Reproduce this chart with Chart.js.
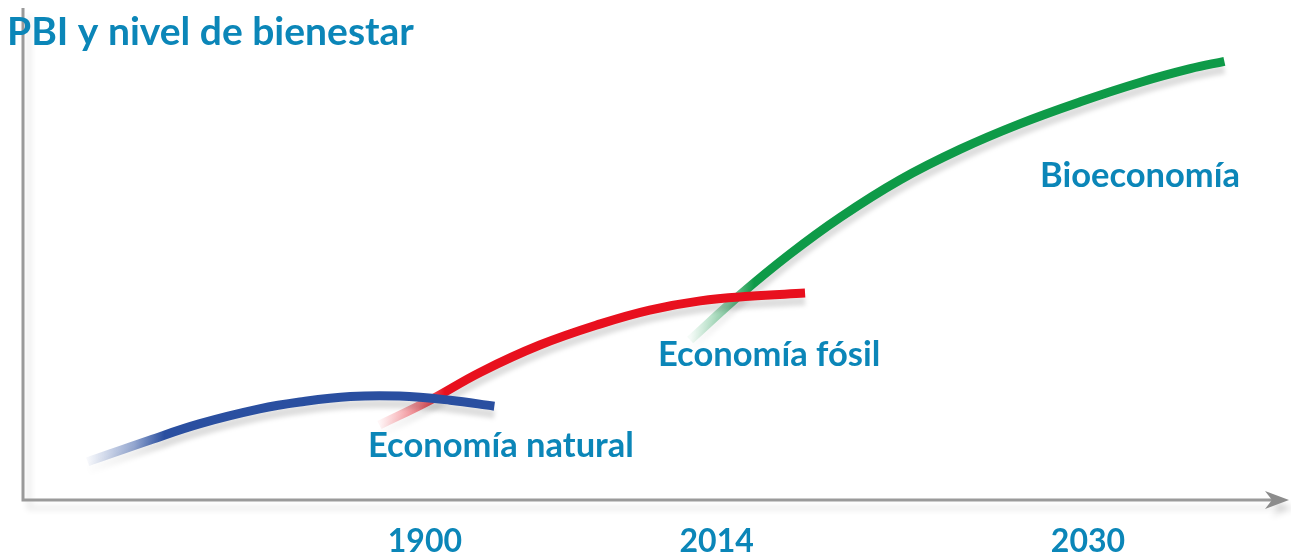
<!DOCTYPE html>
<html>
<head>
<meta charset="utf-8">
<script src="https://cdn.jsdelivr.net/npm/chart.js@4.4.1/dist/chart.umd.min.js"></script>
<style>
  html, body { margin: 0; padding: 0; background: #fff; }
  #wrap { width: 1291px; height: 555px; }
</style>
</head>
<body>
<div id="wrap"><canvas id="chart"></canvas></div>
<script>
// Datos (eje x: tiempo relativo 0-100, eje y: nivel de bienestar 0-107)
const economiaNatural = [
    { x: 5.2, y: 8.3 }, { x: 10.1, y: 13.0 }, { x: 14.1, y: 16.6 }, { x: 18.8, y: 19.8 },
    { x: 22.0, y: 21.3 }, { x: 26.0, y: 22.5 }, { x: 29.9, y: 22.6 }, { x: 33.9, y: 21.7 },
    { x: 37.4, y: 20.4 }
];
const economiaFosil = [
    { x: 28.3, y: 16.3 }, { x: 32.3, y: 21.7 }, { x: 36.3, y: 27.8 }, { x: 41.0, y: 33.7 },
    { x: 45.8, y: 38.3 }, { x: 49.7, y: 41.3 }, { x: 53.7, y: 43.3 }, { x: 57.6, y: 44.3 },
    { x: 62.0, y: 45.0 }
];
const bioeconomia = [
    { x: 52.9, y: 34.8 }, { x: 56.8, y: 44.5 }, { x: 60.8, y: 53.5 }, { x: 64.8, y: 61.5 },
    { x: 69.5, y: 69.6 }, { x: 74.3, y: 76.3 }, { x: 79.0, y: 81.8 }, { x: 83.8, y: 86.6 },
    { x: 88.5, y: 90.8 }, { x: 92.5, y: 93.8 }, { x: 95.2, y: 95.4 }
];
const tickValues = [31.9, 55.0, 84.4];
const tickLabels = ['1900', '2014', '2030'];

const TEXT_COLOR = '#0b86b8';
const FONT = 'Lato, "Open Sans", sans-serif';

// Degradado para el inicio difuso de cada trazo
function strokeColor(rgb, data) {
    return (ctx) => {
        const chart = ctx.chart;
        if (!chart.chartArea) return `rgb(${rgb})`;
        const xs = chart.scales.x;
        const x0 = xs.getPixelForValue(data[0].x);
        const x1 = xs.getPixelForValue(data[1].x) + 15;
        const g = chart.ctx.createLinearGradient(x0, 0, x1, 0);
        g.addColorStop(0, `rgba(${rgb},0.04)`);
        g.addColorStop(0.6, `rgba(${rgb},0.5)`);
        g.addColorStop(1, `rgba(${rgb},1)`);
        return g;
    };
}

function lineSet(label, data, rgb) {
    return {
        label: label,
        data: data,
        borderColor: strokeColor(rgb, data),
        borderWidth: 9,
        borderCapStyle: 'butt',
        pointRadius: 0,
        tension: 0.4,
        fill: false
    };
}

// Ejes con flecha, sombra y textos
const decoPlugin = {
    id: 'deco',
    beforeDatasetsDraw(chart) {
        const { ctx, chartArea: a } = chart;
        ctx.save();
        ctx.shadowColor = 'rgba(0,0,0,0.12)';
        ctx.shadowBlur = 6;
        ctx.shadowOffsetX = 6;
        ctx.shadowOffsetY = 8;
        ctx.strokeStyle = '#9a9a9a';
        ctx.lineWidth = 3;
        ctx.beginPath();
        ctx.moveTo(a.left + 1, a.top);
        ctx.lineTo(a.left + 1, a.bottom);
        ctx.lineTo(a.right - 6, a.bottom);
        ctx.stroke();
        ctx.fillStyle = '#8c8c8c';
        ctx.beginPath();
        ctx.moveTo(a.right + 4, a.bottom);
        ctx.lineTo(a.right - 20, a.bottom - 9);
        ctx.lineTo(a.right - 13, a.bottom);
        ctx.lineTo(a.right - 20, a.bottom + 9);
        ctx.closePath();
        ctx.fill();
        ctx.restore();

        ctx.save();
        ctx.shadowColor = 'rgba(0,0,0,0.13)';
        ctx.shadowBlur = 4;
        ctx.shadowOffsetY = 8;
    },
    afterDatasetsDraw(chart) {
        const { ctx } = chart;
        ctx.restore();
        ctx.save();
        ctx.fillStyle = TEXT_COLOR;
        ctx.textBaseline = 'middle';
        ctx.textAlign = 'left';
        ctx.font = `bold 39px ${FONT}`;
        ctx.fillText('PBI y nivel de bienestar', 7, 32);
        ctx.font = `bold 34.5px ${FONT}`;
        ctx.fillText('Economía natural', 368, 446);
        ctx.fillText('Economía fósil', 658, 355);
        ctx.fillText('Bioeconomía', 1040, 176);
        ctx.restore();
    }
};

new Chart(document.getElementById('chart'), {
    type: 'line',
    data: {
        datasets: [
            lineSet('Economía natural', economiaNatural, '42,79,160'),
            lineSet('Economía fósil', economiaFosil, '232,16,30'),
            lineSet('Bioeconomía', bioeconomia, '14,154,72')
        ]
    },
    options: {
        responsive: true,
        maintainAspectRatio: false,
        animation: false,
        layout: { padding: { left: 22, top: 8, right: 6, bottom: 0 } },
        plugins: { legend: { display: false }, tooltip: { enabled: false } },
        scales: {
            x: {
                type: 'linear',
                min: 0,
                max: 100,
                grid: { display: false, drawTicks: false },
                border: { display: false },
                afterBuildTicks: s => { s.ticks = tickValues.map(v => ({ value: v })); },
                afterFit: s => { s.height = 55; },
                ticks: {
                    autoSkip: false,
                    maxRotation: 0,
                    padding: 22,
                    color: TEXT_COLOR,
                    font: { family: FONT, size: 32, weight: 'bold' },
                    callback: (v, i) => tickLabels[i]
                }
            },
            y: { display: false, min: 0, max: 107 }
        }
    },
    plugins: [decoPlugin]
});
</script>
</body>
</html>
